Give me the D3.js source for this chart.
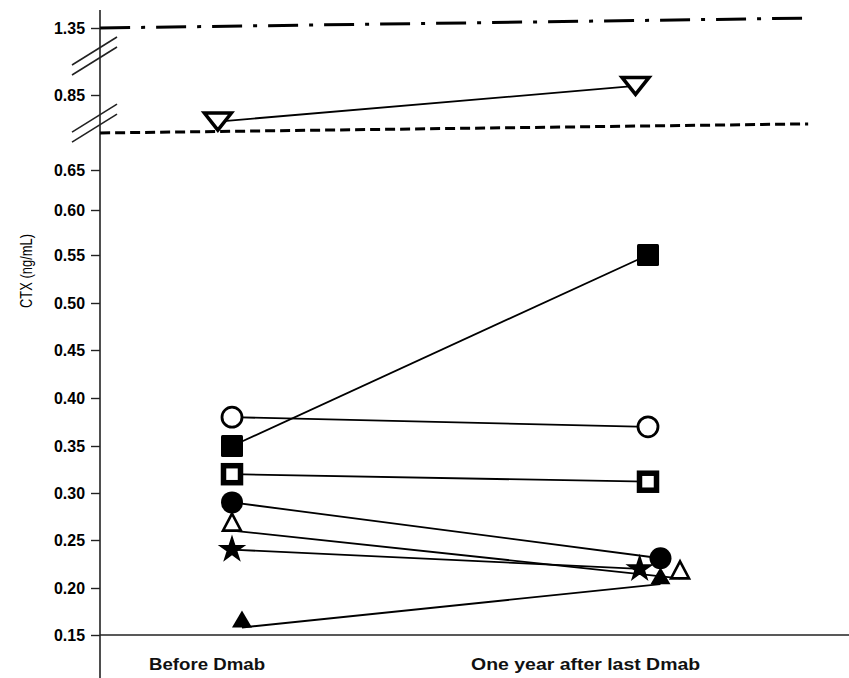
<!DOCTYPE html>
<html>
<head>
<meta charset="utf-8">
<script src="https://cdn.jsdelivr.net/npm/d3@7"></script>
<style>
  body { margin: 0; background: #fff; }
  text { font-family: "Liberation Sans", Arial, sans-serif; }
</style>
</head>
<body>
<div id="chart"></div>
<script>
// categories on the x axis and where their labels sit (x units)
var categories = ["Before Dmab", "One year after last Dmab"];
var catLabelPos = [0.94, 1.85];

// one entry per patient
var markers = ["circleOpen", "squareFilled", "squareOpen", "circleFilled", "triangleOpen", "star", "triangleFilled", "triangleDownOpen"];
var before  = [0.38, 0.35, 0.32, 0.29, 0.26, 0.24, 0.158, 0.78];
var after   = [0.37, 0.55, 0.312, 0.231, 0.21, 0.22, 0.204, 0.874];
// small horizontal jitter of the points (x units, 1 = before, 2 = after)
var xBefore = [1, 1, 1, 1, 1, 1, 1.024, 0.966];
var xAfter  = [2, 2, 2, 2.03, 2.077, 1.98, 2.03, 1.97];

// y ticks, the two axis breaks, and the two reference lines
var yTicks = [0.15, 0.20, 0.25, 0.30, 0.35, 0.40, 0.45, 0.50, 0.55, 0.60, 0.65, 0.85, 1.35];
var breakVals = [0.776, 0.985];
var refStart = [1.35, 0.75];
var refEnd   = [1.376, 0.774];
var refX     = [0.683, 2.385];

var width = 849, height = 678;

var svg = d3.select("#chart").append("svg")
  .attr("width", width)
  .attr("height", height);

// broken y axis: piecewise linear scale (lower part follows the printed tick spacing)
var y = d3.scaleLinear()
  .domain([0.15, 0.20, 0.25, 0.30, 0.35, 0.40, 0.45, 0.50, 0.55, 0.60, 0.65, 0.75, 0.95, 1.30, 1.45])
  .range([635, 588, 540, 493, 446, 398, 350, 303, 255, 210, 170, 133, 57, 47, -10]);

var x = d3.scaleLinear().domain([1, 2]).range([232, 648]);

var axisX = 100;

// axis lines
svg.append("line")
  .attr("x1", axisX).attr("x2", axisX)
  .attr("y1", 10).attr("y2", height)
  .attr("stroke", "#222").attr("stroke-width", 1.6);

svg.append("line")
  .attr("x1", axisX).attr("x2", width)
  .attr("y1", y(0.15)).attr("y2", y(0.15))
  .attr("stroke", "#222").attr("stroke-width", 1.6);

var yAxis = svg.append("g")
  .attr("transform", "translate(" + axisX + ",0)")
  .call(d3.axisLeft(y).tickValues(yTicks).tickFormat(d3.format(".2f")).tickSize(9).tickPadding(6));

yAxis.select(".domain").remove();
yAxis.selectAll(".tick line").attr("stroke", "#222").attr("stroke-width", 1.4);
yAxis.selectAll(".tick text")
  .attr("fill", "#000")
  .attr("textLength", 31)
  .attr("lengthAdjust", "spacingAndGlyphs")
  .style("font-size", "16px")
  .style("font-weight", "bold");

// axis break marks
breakVals.forEach(function (b) {
  var cy = y(b);
  [-5, 5].forEach(function (off) {
    svg.append("line")
      .attr("x1", axisX - 28).attr("y1", cy + off + 14)
      .attr("x2", axisX + 17).attr("y2", cy + off - 14)
      .attr("stroke", "#222").attr("stroke-width", 1.6);
  });
});

// y label
svg.append("text")
  .attr("transform", "translate(32," + 271 + ") rotate(-90)")
  .attr("text-anchor", "middle")
  .attr("textLength", 74)
  .attr("lengthAdjust", "spacingAndGlyphs")
  .style("font-size", "16px")
  .attr("fill", "#000")
  .text("CTX (ng/mL)");

// category labels
var catWidth = [116, 229];
svg.selectAll(".cat")
  .data(categories)
  .enter().append("text")
  .attr("class", "cat")
  .attr("x", function (d, i) { return x(catLabelPos[i]); })
  .attr("y", 670)
  .attr("text-anchor", "middle")
  .attr("textLength", function (d, i) { return catWidth[i]; })
  .attr("lengthAdjust", "spacingAndGlyphs")
  .style("font-size", "17px")
  .style("font-weight", "bold")
  .attr("fill", "#111")
  .text(function (d) { return d; });

// reference lines
var refDash = ["30,11,4,11", "10,5"];
refStart.forEach(function (v, i) {
  svg.append("line")
    .attr("x1", x(refX[0])).attr("y1", y(v))
    .attr("x2", x(refX[1])).attr("y2", y(refEnd[i]))
    .attr("stroke", "#000")
    .attr("stroke-width", 3)
    .attr("stroke-dasharray", refDash[i]);
});

// connecting lines
var idx = d3.range(markers.length);
svg.append("g").selectAll("line")
  .data(idx).enter().append("line")
  .attr("x1", function (i) { return x(xBefore[i]); })
  .attr("y1", function (i) { return y(before[i]); })
  .attr("x2", function (i) { return x(xAfter[i]); })
  .attr("y2", function (i) { return y(after[i]); })
  .attr("stroke", "#000")
  .attr("stroke-width", 1.8);

// marker shapes
function triPath(w, h, down) {
  var p = d3.path();
  if (!down) {
    // base sits on the data point
    p.moveTo(0, -h); p.lineTo(w / 2, 0); p.lineTo(-w / 2, 0);
  } else {
    p.moveTo(-w / 2, -h / 2); p.lineTo(w / 2, -h / 2); p.lineTo(0, h / 2);
  }
  p.closePath();
  return p.toString();
}

function starPath(R) {
  var r = R * 0.382, p = d3.path();
  for (var k = 0; k < 10; k++) {
    var a = -Math.PI / 2 + k * Math.PI / 5;
    var rr = k % 2 ? r : R;
    if (k === 0) p.moveTo(rr * Math.cos(a), rr * Math.sin(a));
    else p.lineTo(rr * Math.cos(a), rr * Math.sin(a));
  }
  p.closePath();
  return p.toString();
}

function drawMarker(g, kind) {
  if (kind === "circleOpen") {
    g.append("circle").attr("r", 10).attr("fill", "#fff").attr("stroke", "#000").attr("stroke-width", 2.8);
  } else if (kind === "circleFilled") {
    g.append("circle").attr("r", 11).attr("fill", "#000");
  } else if (kind === "squareFilled") {
    g.append("rect").attr("x", -11).attr("y", -11).attr("width", 22).attr("height", 22).attr("rx", 1.5).attr("fill", "#000");
  } else if (kind === "squareOpen") {
    g.append("rect").attr("x", -8.5).attr("y", -8.5).attr("width", 17).attr("height", 17).attr("fill", "#fff").attr("stroke", "#000").attr("stroke-width", 5.5);
  } else if (kind === "triangleOpen") {
    g.append("path").attr("d", triPath(18, 17, false)).attr("fill", "#fff").attr("stroke", "#000").attr("stroke-width", 2.6).attr("stroke-linejoin", "miter");
  } else if (kind === "triangleFilled") {
    g.append("path").attr("d", triPath(20, 17, false)).attr("fill", "#000");
  } else if (kind === "triangleDownOpen") {
    g.append("path").attr("d", triPath(27, 17, true)).attr("fill", "#fff").attr("stroke", "#000").attr("stroke-width", 3.5);
  } else if (kind === "star") {
    g.append("path").attr("d", starPath(15)).attr("fill", "#000");
  }
}

// star drawn first so the after-cluster overlaps like the original
var order = [5, 4, 0, 1, 2, 3, 6, 7];
var pts = svg.append("g");
order.forEach(function (i) {
  drawMarker(pts.append("g").attr("transform", "translate(" + x(xBefore[i]) + "," + y(before[i]) + ")"), markers[i]);
  drawMarker(pts.append("g").attr("transform", "translate(" + x(xAfter[i]) + "," + y(after[i]) + ")"), markers[i]);
});
</script>
</body>
</html>
